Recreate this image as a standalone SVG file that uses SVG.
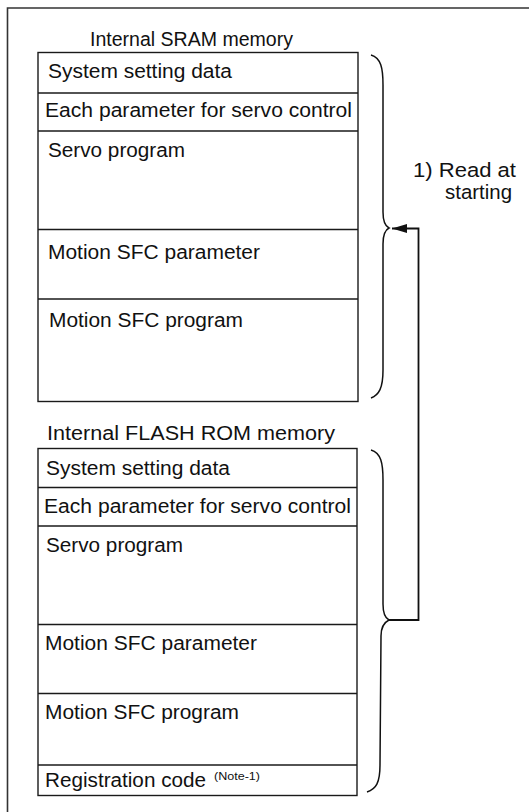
<svg xmlns="http://www.w3.org/2000/svg" width="529" height="812" viewBox="0 0 529 812">
<style>
.box{fill:#fff;stroke:#1a1a1a;stroke-width:1.4}
.ln{stroke:#1a1a1a;stroke-width:1.3;fill:none}
.t{font-family:"Liberation Sans",Arial,sans-serif;font-size:20px;fill:#111}
.h{font-family:"Liberation Sans",Arial,sans-serif;font-size:19.5px;fill:#111}
.l{font-family:"Liberation Sans",Arial,sans-serif;font-size:20.5px;fill:#111}
.n{font-family:"Liberation Sans",Arial,sans-serif;font-size:10px;fill:#111}
.br{fill:none;stroke:#111;stroke-width:1.5}
</style>
<defs>
<marker id="ah" markerWidth="16" markerHeight="10" refX="15" refY="5" orient="auto" markerUnits="userSpaceOnUse">
<path d="M0,0.5 L15,5 L0,9.5 Z" fill="#111"/>
</marker>
</defs>
<path d="M7.5,812 L7.5,8 L529,8" fill="none" stroke="#333" stroke-width="1.6"/>
<g id="sram">
<text class="h" x="90" y="46" textLength="203" lengthAdjust="spacingAndGlyphs">Internal SRAM memory</text>
<rect class="box" x="38" y="52.5" width="320" height="349"/>
<line class="ln" x1="38" y1="93" x2="358" y2="93"/>
<line class="ln" x1="38" y1="131" x2="358" y2="131"/>
<line class="ln" x1="38" y1="229.5" x2="358" y2="229.5"/>
<line class="ln" x1="38" y1="299" x2="358" y2="299"/>
<text class="t" x="48" y="77.5" textLength="184" lengthAdjust="spacingAndGlyphs">System setting data</text>
<text class="t" x="45" y="117" textLength="307" lengthAdjust="spacingAndGlyphs">Each parameter for servo control</text>
<text class="t" x="48" y="157" textLength="137" lengthAdjust="spacingAndGlyphs">Servo program</text>
<text class="t" x="48" y="258.5" textLength="212" lengthAdjust="spacingAndGlyphs">Motion SFC parameter</text>
<text class="t" x="49" y="327" textLength="194" lengthAdjust="spacingAndGlyphs">Motion SFC program</text>
<path class="br" d="M371,55 C381,58 383,68 383,85 L383,212 C383,222 385,226 389,228 C385,230 383,234 383,244 L383,370 C383,388 379,395 371,398"/>
</g>
<g id="flash">
<text class="h" x="47" y="440" textLength="288" lengthAdjust="spacingAndGlyphs">Internal FLASH ROM memory</text>
<rect class="box" x="38" y="448.5" width="319" height="347"/>
<line class="ln" x1="38" y1="487.5" x2="357" y2="487.5"/>
<line class="ln" x1="38" y1="526" x2="357" y2="526"/>
<line class="ln" x1="38" y1="624.5" x2="357" y2="624.5"/>
<line class="ln" x1="38" y1="693.5" x2="357" y2="693.5"/>
<line class="ln" x1="38" y1="765" x2="357" y2="765"/>
<text class="t" x="46" y="474.5" textLength="184" lengthAdjust="spacingAndGlyphs">System setting data</text>
<text class="t" x="44" y="513" textLength="307" lengthAdjust="spacingAndGlyphs">Each parameter for servo control</text>
<text class="t" x="46" y="552" textLength="137" lengthAdjust="spacingAndGlyphs">Servo program</text>
<text class="t" x="45" y="650" textLength="212" lengthAdjust="spacingAndGlyphs">Motion SFC parameter</text>
<text class="t" x="45" y="718.5" textLength="194" lengthAdjust="spacingAndGlyphs">Motion SFC program</text>
<text class="t" x="45" y="787" textLength="161" lengthAdjust="spacingAndGlyphs">Registration code</text>
<text class="n" x="214" y="780" textLength="46" lengthAdjust="spacingAndGlyphs">(Note-1)</text>
<path class="br" d="M371,450 C381,453 383,463 383,480 L383,604 C383,614 385,618 389,620 C385,622 381,626 381,636 L380,765 C380,783 376,789 367,792"/>
</g>
<g id="connectors">
<path d="M389,620 L418.5,620 L418.5,228.5 L392,228.5" fill="none" stroke="#111" stroke-width="1.8" marker-end="url(#ah)"/>
</g>
<g id="label">
<text class="l" x="413" y="177" textLength="103" lengthAdjust="spacingAndGlyphs">1)  Read at</text>
<text class="l" x="445" y="199" textLength="67" lengthAdjust="spacingAndGlyphs">starting</text>
</g>
</svg>
